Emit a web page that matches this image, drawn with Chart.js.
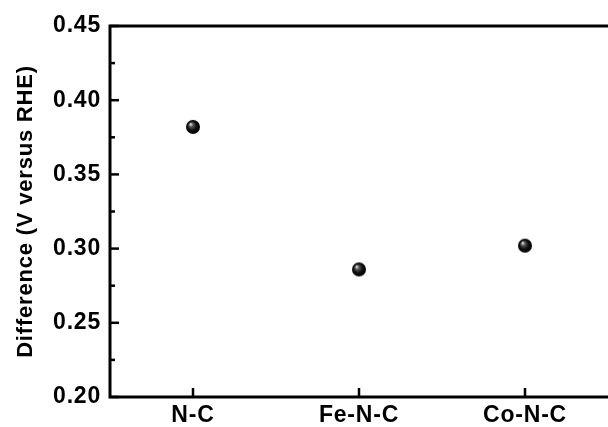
<!DOCTYPE html>
<html>
<head>
<meta charset="UTF-8">
<title>Difference</title>
<style>
  html, body { margin: 0; padding: 0; background: #fff; }
  canvas { display: block; }
</style>
</head>
<body>
<canvas id="chart" width="608" height="427"></canvas>
<script src="https://cdn.jsdelivr.net/npm/chart.js@4"></script>
<script>
// data
const categories = ['N-C', 'Fe-N-C', 'Co-N-C'];
const differenceValues = [0.382, 0.286, 0.302];
const yTicks = [0.20, 0.25, 0.30, 0.35, 0.40, 0.45];
const yTitle = 'Difference (V versus RHE)';

const FONT = "'Liberation Sans', Arial, sans-serif";
const SPACING = '0.8px';

// small shaded ball used as the marker
function makeBall(r) {
  const c = document.createElement('canvas');
  c.width = c.height = r * 2 + 2;
  const g = c.getContext('2d');
  const cx = r + 1, cy = r + 1;
  const grad = g.createRadialGradient(cx - r * 0.35, cy - r * 0.4, 0.5, cx, cy, r);
  grad.addColorStop(0, '#d8d8d8');
  grad.addColorStop(0.25, '#555');
  grad.addColorStop(0.6, '#111');
  grad.addColorStop(1, '#000');
  g.fillStyle = grad;
  g.beginPath();
  g.arc(cx, cy, r, 0, Math.PI * 2);
  g.fill();
  return c;
}
const ball = makeBall(7);

const spacingPlugin = {
  id: 'spacing',
  beforeUpdate(chart) { chart.ctx.letterSpacing = SPACING; },
  beforeDraw(chart) { chart.ctx.letterSpacing = SPACING; }
};

// frame (right edge is cut off in the reference) plus inward tick marks
const framePlugin = {
  id: 'frame',
  afterDraw(chart) {
    const { ctx, chartArea: a, scales } = chart;
    ctx.save();
    ctx.strokeStyle = '#000';
    ctx.lineWidth = 2.5;
    for (let i = 0; i < yTicks.length; i++) {
      const y = scales.y.getPixelForValue(yTicks[i]);
      ctx.beginPath();
      ctx.moveTo(a.left, y);
      ctx.lineTo(a.left + 9, y);
      ctx.stroke();
      if (i < yTicks.length - 1) {
        const ym = scales.y.getPixelForValue((yTicks[i] + yTicks[i + 1]) / 2);
        ctx.beginPath();
        ctx.moveTo(a.left, ym);
        ctx.lineTo(a.left + 5, ym);
        ctx.stroke();
      }
    }
    categories.forEach((c, i) => {
      const x = scales.x.getPixelForValue(i);
      ctx.beginPath();
      ctx.moveTo(x, a.bottom);
      ctx.lineTo(x, a.bottom - 9);
      ctx.stroke();
    });
    ctx.lineWidth = 3;
    ctx.beginPath();
    ctx.moveTo(a.right + 5, a.top);
    ctx.lineTo(a.left, a.top);
    ctx.lineTo(a.left, a.bottom);
    ctx.lineTo(a.right + 5, a.bottom);
    ctx.stroke();
    ctx.restore();
  }
};

new Chart(document.getElementById('chart'), {
  type: 'line',
  data: {
    labels: categories,
    datasets: [{
      data: differenceValues,
      showLine: false,
      pointStyle: ball,
      pointRadius: 7,
      pointHoverRadius: 7
    }]
  },
  options: {
    responsive: false,
    animation: false,
    events: [],
    layout: { autoPadding: false, padding: { top: 26, right: 0, left: 0, bottom: 0 } },
    plugins: {
      legend: { display: false },
      tooltip: { enabled: false }
    },
    scales: {
      x: {
        type: 'category',
        offset: true,
        grid: { display: false, drawTicks: false },
        border: { display: false },
        ticks: {
          padding: 5,
          color: '#000',
          font: { family: FONT, size: 23, weight: 'bold' }
        },
        afterFit(scale) { scale.height = 30; }
      },
      y: {
        min: 0.2,
        max: 0.45,
        grid: { display: false, drawTicks: false },
        border: { display: false },
        afterBuildTicks(scale) { scale.ticks = yTicks.map(v => ({ value: v })); },
        ticks: {
          padding: 9,
          color: '#000',
          font: { family: FONT, size: 23, weight: 'bold' },
          callback: v => v.toFixed(2)
        },
        title: {
          display: true,
          text: yTitle,
          color: '#000',
          padding: { top: 13, bottom: 0 },
          font: { family: FONT, size: 22, weight: 'bold' }
        },
        afterFit(scale) { scale.width = 110; }
      }
    }
  },
  plugins: [spacingPlugin, framePlugin]
});
</script>
</body>
</html>
